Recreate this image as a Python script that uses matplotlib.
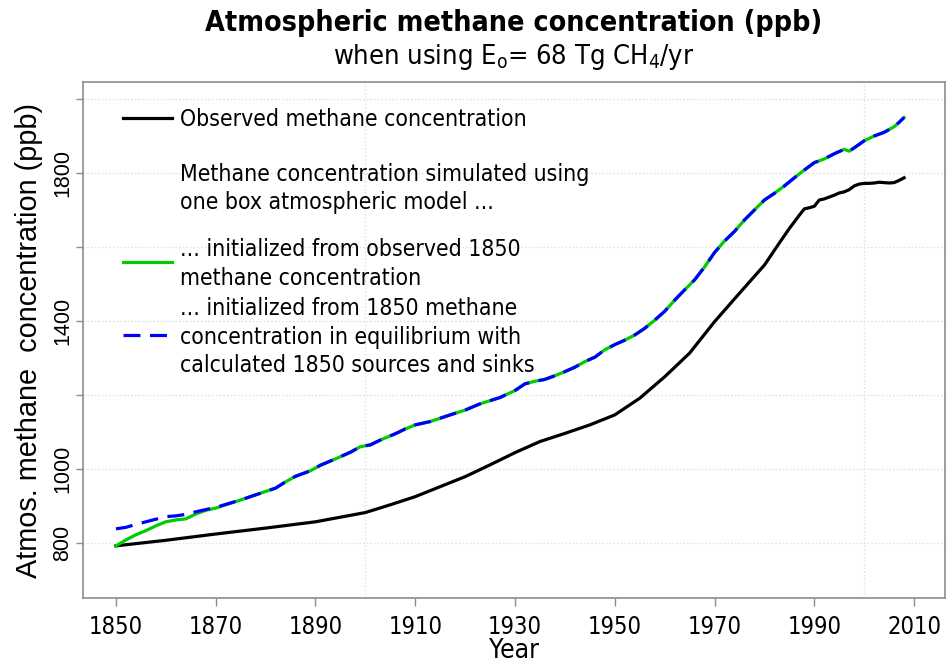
import matplotlib
matplotlib.use('Agg')
import matplotlib.pyplot as plt
from matplotlib.lines import Line2D
from matplotlib.ticker import FixedLocator

# observed methane (ppb)
obs_years = [1850, 1860, 1870, 1880, 1890, 1900, 1905, 1910, 1915, 1920, 1925, 1930,
             1935, 1940, 1945, 1950, 1955, 1960, 1965, 1970, 1975, 1980, 1983, 1985,
             1986, 1987, 1988, 1989, 1990, 1991, 1992, 1993, 1994, 1995, 1996, 1997,
             1998, 1999, 2000, 2001, 2002, 2003, 2004, 2005, 2006, 2007, 2008]
obs_ch4 = [792, 807, 824, 840, 857, 882, 903, 925, 952, 979, 1011, 1044,
           1074, 1096, 1119, 1146, 1191, 1249, 1313, 1398, 1475, 1551, 1611, 1650,
           1668, 1686, 1703, 1706, 1710, 1727, 1730, 1735, 1740, 1746, 1749, 1755,
           1765, 1770, 1772, 1772, 1773, 1775, 1774, 1773, 1774, 1780, 1787]

# simulated, one box model
sim_years = [1850, 1852, 1854, 1856, 1858, 1860, 1862, 1864, 1866, 1868, 1870, 1875,
             1880, 1882, 1884, 1886, 1889, 1891, 1894, 1897, 1899, 1901, 1903, 1906,
             1908, 1910, 1913, 1917, 1920, 1923, 1927, 1930, 1932, 1934, 1936, 1938,
             1940, 1942, 1944, 1946, 1948, 1950, 1952, 1954, 1956, 1958, 1960, 1962,
             1964, 1966, 1968, 1970, 1972, 1974, 1976, 1978, 1980, 1982, 1984, 1986,
             1988, 1990, 1992, 1994, 1996, 1997, 1998, 2000, 2002, 2004, 2006, 2007, 2008]
sim_from_obs = [792, 808, 822, 833, 846, 857, 862, 865, 878, 888, 894, 916,
                939, 948, 965, 980, 995, 1010, 1027, 1045, 1060, 1065, 1078, 1095,
                1108, 1119, 1128, 1146, 1159, 1176, 1193, 1212, 1230, 1237, 1242, 1252,
                1263, 1275, 1290, 1302, 1322, 1336, 1348, 1362, 1380, 1402, 1426, 1456,
                1484, 1511, 1546, 1585, 1616, 1642, 1673, 1700, 1727, 1745, 1765, 1787,
                1808, 1828, 1838, 1852, 1864, 1859, 1868, 1887, 1900, 1910, 1925, 1937, 1950]
sim_from_eq = [838, 842, 850, 857, 864, 871, 873, 877, 884, 890, 896, 916,
               939, 948, 965, 980, 995, 1010, 1027, 1045, 1060, 1065, 1078, 1095,
               1108, 1119, 1128, 1146, 1159, 1176, 1193, 1212, 1230, 1237, 1242, 1252,
               1263, 1275, 1290, 1302, 1322, 1336, 1348, 1362, 1380, 1402, 1426, 1456,
               1484, 1511, 1546, 1585, 1616, 1642, 1673, 1700, 1727, 1745, 1765, 1787,
               1808, 1828, 1838, 1852, 1864, 1859, 1868, 1887, 1900, 1910, 1925, 1937, 1950]

xticks = [1850, 1870, 1890, 1910, 1930, 1950, 1970, 1990, 2010]
xgrid = [1850, 1900, 1950, 2000]
yticks = [800, 1000, 1200, 1400, 1600, 1800, 2000]
ylabels = ['800', '1000', '', '1400', '', '1800', '']

legend_lines = [
    ('k', '-', ['Observed methane concentration']),
    (None, None, ['Methane concentration simulated using', 'one box atmospheric model ...']),
    ('#00cc00', '-', ['... initialized from observed 1850', 'methane concentration']),
    ('#0000ff', '--', ['... initialized from 1850 methane', 'concentration in equilibrium with',
                       'calculated 1850 sources and sinks']),
]

plt.rcParams['font.family'] = ['DejaVu Sans Condensed', 'DejaVu Sans']
plt.rcParams['font.stretch'] = 'condensed'
plt.rcParams['mathtext.fontset'] = 'custom'
plt.rcParams['mathtext.rm'] = 'DejaVu Sans:stretch=condensed'

W, H = 946, 663
fig = plt.figure(figsize=(W / 100, H / 100), dpi=100)
ax = fig.add_axes([83 / W, 1 - 598 / H, 862 / W, 516 / H])

gray = '#8c8c8c'
dash = (5.3, 3.0)
ax.plot(obs_years, obs_ch4, color='k', lw=2.3, solid_joinstyle='round')
ax.plot(sim_years, sim_from_obs, color='#00cc00', lw=2.3)
ax.plot(sim_years, sim_from_eq, color='#0000ff', lw=2.3, dashes=dash)

ax.set_xlim(1843.4, 2016.2)
ax.set_ylim(651, 2046)
ax.set_xticks(xticks)
ax.xaxis.set_minor_locator(FixedLocator(xgrid))
ax.set_yticks(yticks)
ax.set_yticklabels(ylabels, rotation=90, va='center', family='Liberation Sans', fontsize=15.5)
ax.tick_params(axis='x', labelsize=17, length=5.8, width=1, color=gray, pad=6.5)
ax.tick_params(axis='y', length=5, width=1, color=gray, pad=2)
ax.tick_params(axis='x', which='minor', length=0)
ax.grid(True, which='minor', axis='x', color='#dedede', ls=':', lw=1)
ax.grid(True, which='major', axis='y', color='#dedede', ls=':', lw=1)
for s in ax.spines.values():
    s.set_color(gray)
    s.set_linewidth(1.2)

ax.set_xlabel('Year', fontsize=19, labelpad=-1)
ax.set_ylabel('Atmos. methane  concentration (ppb)', family='Liberation Sans',
              fontsize=20.8, labelpad=7)

xc = (83 + 945) / 2 / W
fig.text(xc, 1 - 23 / H, 'Atmospheric methane concentration (ppb)', ha='center', va='center',
         fontsize=20.5, fontweight='bold')
fig.text(xc, 1 - 57 / H, r'when using E$_{\mathrm{o}}$= 68 Tg CH$_{4}$/yr', ha='center',
         va='center', fontsize=19.5)

# legend, drawn by hand to keep the uneven spacing
baselines = [[126.5], [181.5, 209.5], [256.5, 285], [315, 344, 371.5]]
key_y = [118, None, 262.5, 335]
for (col, ls, lines), bls, ky in zip(legend_lines, baselines, key_y):
    if col is not None:
        kw = dict(dashes=dash) if ls == '--' else {}
        fig.add_artist(Line2D([123 / W, 172 / W], [1 - ky / H, 1 - ky / H], color=col,
                              lw=2.3, transform=fig.transFigure, **kw))
    for txt, b in zip(lines, bls):
        fig.text(180 / W, 1 - b / H, txt, ha='left', va='baseline', fontsize=16.5)

fig.savefig('out.png', dpi=100)
